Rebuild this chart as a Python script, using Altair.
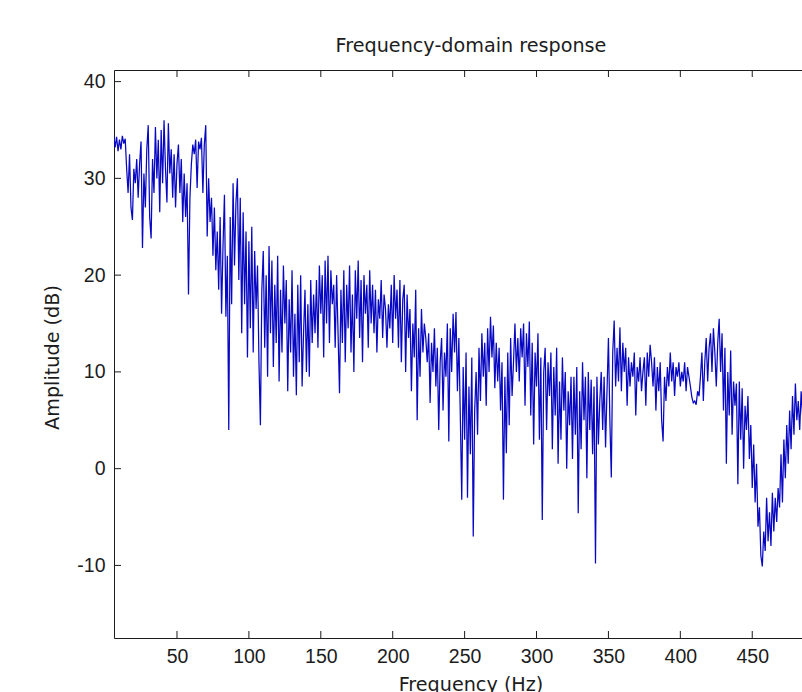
import altair as alt
import pandas as pd

# ---- data (1 Hz bins starting at 6 Hz) ----
freq_start_hz = 6
amp_db = [
    34.5, 33.2, 34.3, 32.8, 34.0, 33.0, 34.4, 33.6, 34.1, 31.0, 28.5, 32.5, 27.0, 25.7, 31.0, 29.5, 32.0, 28.0, 31.5, 33.8,
    22.8, 30.5, 27.0, 33.0, 35.5, 26.0, 23.8, 32.0, 28.5, 35.3, 30.0, 34.0, 26.5, 35.0, 29.5, 36.0, 31.0, 27.5, 35.7, 30.5,
    33.0, 28.0, 32.5, 27.0, 31.5, 33.5, 28.5, 32.0, 25.5, 30.5, 26.0, 29.5, 18.0, 28.0, 31.5, 33.5, 32.5, 34.0, 29.0, 33.8,
    33.0, 34.2, 28.5, 33.5, 35.5, 24.0, 30.0, 25.5, 28.0, 22.0, 27.0, 20.5, 24.5, 18.5, 26.0, 16.0, 23.0, 28.3, 15.7, 22.0,
    4.0, 26.0, 17.0, 29.5, 21.0, 27.5, 30.0, 19.5, 28.0, 14.0, 26.5, 17.0, 24.5, 11.5, 23.5, 14.5, 25.0, 12.0, 22.5, 16.5,
    21.0, 11.0, 4.5, 18.5, 22.5, 12.5, 20.0, 9.5, 23.0, 14.0, 21.5, 10.5, 19.0, 13.0, 22.0, 9.0, 18.5, 12.0, 21.0, 15.0,
    19.5, 8.0, 17.5, 12.0, 20.5, 9.5, 16.0, 7.6, 19.0, 11.0, 20.0, 8.5, 14.0, 18.5, 10.0, 17.0, 9.5, 19.5, 13.0, 18.0,
    14.0, 19.5, 12.5, 21.0, 16.0, 20.0, 11.5, 21.5, 15.0, 22.0, 13.0, 20.5, 17.0, 19.0, 12.5, 20.0, 14.0, 7.8, 18.5, 13.0,
    20.5, 11.0, 19.0, 14.5, 21.0, 12.0, 18.0, 10.0, 20.5, 15.5, 21.5, 13.5, 19.5, 11.0, 20.0, 16.0, 19.0, 12.5, 20.5, 15.0,
    19.0, 14.0, 18.5, 12.0, 17.5, 15.5, 19.5, 13.5, 18.0, 16.5, 12.5, 17.0, 14.5, 19.0, 13.0, 20.0, 15.5, 18.5, 12.5, 19.5,
    11.0, 17.5, 19.0, 10.0, 18.0, 13.5, 16.5, 8.0, 15.0, 11.5, 18.5, 5.0, 14.5, 9.5, 16.5, 12.0, 15.0, 13.5, 11.0, 14.0,
    6.8, 13.0, 10.0, 14.5, 8.5, 12.5, 4.0, 11.0, 13.5, 6.0, 12.0, 9.5, 15.0, 2.8, 14.5, 10.0, 16.0, 12.0, 16.2, 8.0,
    13.5, 5.5, -3.2, 10.5, 3.0, 12.0, -3.0, 8.5, 1.5, 11.5, -7.0, 6.0, 10.0, 3.5, 12.5, 7.0, 14.0, 9.5, 13.0, 6.5,
    14.5, 10.0, 15.7, 11.5, 14.8, 8.3, 13.0, 9.0, 12.5, 6.0, 11.0, -3.2, 9.5, 1.6, 12.0, 4.5, 13.5, 7.5, 11.0, 15.0,
    10.0, 13.5, 9.0, 14.5, 11.5, 15.0, 6.5, 14.0, 10.5, 15.2, 5.5, 13.0, 2.5, 12.0, 8.5, 14.0, 3.0, 11.5, -5.3, 10.0,
    12.5, 4.0, 11.0, 7.5, 12.0, 2.0, 10.5, 5.5, 12.5, 0.5, 9.0, 3.0, 11.5, 6.0, 10.0, 0.0, 8.0, 4.5, 9.5, 1.0,
    9.5, 3.5, 10.5, -4.6, 8.0, 2.0, 11.0, 5.0, 9.5, -1.0, 10.0, 4.0, 9.2, 1.5, 8.5, -9.8, 9.5, 2.5, 7.0, 10.0,
    4.0, 9.5, 2.2, 8.0, 13.5, 5.0, -0.9, 12.0, 15.3, 8.5, 12.5, 9.0, 14.6, 8.0, 13.0, 10.0, 12.5, 6.5, 11.5, 8.5,
    11.0, 9.5, 12.0, 5.5, 10.5, 9.0, 11.5, 8.0, 10.0, 11.5, 6.5, 12.0, 9.5, 12.8, 11.0, 8.5, 11.5, 6.0, 10.5, 8.0,
    11.0, 5.0, 2.8, 9.5, 7.0, 10.5, 8.5, 12.0, 9.0, 11.0, 7.5, 10.5, 9.5, 11.0, 8.5, 10.0, 9.0, 11.0, 8.0, 10.5,
    9.5, 8.5, 7.4, 6.8, 7.0, 6.6, 8.0, 7.5, 9.5, 12.0, 7.0, 11.0, 13.5, 9.0, 12.5, 14.0, 10.0, 14.5, 12.0, 8.5,
    13.0, 15.5, 10.0, 14.0, 6.0, 12.5, 0.5, 10.0, 5.5, 12.2, 3.5, 9.0, 6.5, 8.8, -1.6, 9.0, 3.0, 8.3, 0.0, 6.5,
    4.0, 7.5, 1.0, 4.5, -2.0, 2.5, -3.5, 0.5, -6.0, -4.0, -9.0, -10.1, -6.5, -8.5, -3.0, -7.5, -4.5, -8.0, -2.5, -6.5,
    -3.0, -5.5, -2.0, -4.0, 1.5, -3.5, 3.0, -1.0, 4.5, 0.5, 6.0, 2.0, 7.5, 3.5, 8.8, 5.0, 7.0, 4.0, 8.0, 5.5,
]
freq_hz = list(range(freq_start_hz, freq_start_hz + len(amp_db)))

x_ticks = [50, 100, 150, 200, 250, 300, 350, 400, 450]
y_ticks = [-10, 0, 10, 20, 30, 40]
x_domain = [6.2, 484.6]
y_domain = [-17.5, 41.2]

title_text = "Frequency-domain response"
x_title = "Frequency (Hz)"
y_title = "Amplitude (dB)"

df = pd.DataFrame({"Frequency": freq_hz, "Amplitude": amp_db})
xt_df = pd.DataFrame({"v": x_ticks})
yt_df = pd.DataFrame({"v": y_ticks})

W, H = 688, 568
LABEL_FONT = "Liberation Sans"
TITLE_FONT = "DejaVu Sans"
INK = "#1c1c1c"
FS = 19.5
TFS = 19.2
TICK_PX = 7

# inward tick length expressed in data units of each axis
tick_len_y = TICK_PX * (y_domain[1] - y_domain[0]) / H
tick_len_x = TICK_PX * (x_domain[1] - x_domain[0]) / W

xs = alt.Scale(domain=x_domain, nice=False, zero=False)
ys = alt.Scale(domain=y_domain, nice=False, zero=False)

line = alt.Chart(df).mark_line(color="#0808c4", strokeWidth=1.25, clip=True).encode(
    x=alt.X("Frequency:Q", scale=xs,
            axis=alt.Axis(orient="bottom", values=x_ticks, ticks=False, grid=False,
                          domain=True, domainColor=INK, domainWidth=1,
                          labelFont=LABEL_FONT, labelFontSize=FS, labelColor=INK, labelPadding=9,
                          labelFlush=False, labelOverlap=False, labelExpr="'' + datum.value",
                          title=x_title, titleFont=TITLE_FONT, titleFontSize=TFS,
                          titleFontWeight="normal", titleColor=INK, titleX=356.5, titleY=52,
                          titleBaseline="alphabetic", titleAlign="center", titleAnchor="start")),
    y=alt.Y("Amplitude:Q", scale=ys,
            axis=alt.Axis(orient="left", values=y_ticks, ticks=False, grid=False,
                          domain=True, domainColor=INK, domainWidth=1,
                          labelFont=LABEL_FONT, labelFontSize=FS, labelColor=INK, labelPadding=9,
                          labelFlush=False, labelOverlap=False, labelExpr="'' + datum.value",
                          title=y_title, titleFont=TITLE_FONT, titleFontSize=TFS,
                          titleFontWeight="normal", titleColor=INK, titleX=-55.5, titleY=287,
                          titleAngle=270, titleBaseline="alphabetic", titleAlign="center",
                          titleAnchor="start")),
)

# top border of the box
top_border = alt.Chart(df).mark_line(opacity=0).encode(
    x=alt.X("Frequency:Q", scale=xs,
            axis=alt.Axis(orient="bottom", offset=-H, values=x_ticks, labels=False, domain=True,
                          domainColor=INK, domainWidth=1, ticks=False, grid=False, title=None)),
    y=alt.Y("Amplitude:Q", scale=ys, axis=None),
)

# inward ticks (MATLAB style) on bottom, top and left edges
bottom_ticks = alt.Chart(xt_df).mark_rule(color=INK, strokeWidth=1).encode(
    x=alt.X("v:Q", scale=xs, axis=None),
    y=alt.YDatum(y_domain[0], scale=ys, axis=None),
    y2=alt.Y2Datum(y_domain[0] + tick_len_y),
)
top_ticks = alt.Chart(xt_df).mark_rule(color=INK, strokeWidth=1).encode(
    x=alt.X("v:Q", scale=xs, axis=None),
    y=alt.YDatum(y_domain[1], scale=ys, axis=None),
    y2=alt.Y2Datum(y_domain[1] - tick_len_y),
)
left_ticks = alt.Chart(yt_df).mark_rule(color=INK, strokeWidth=1).encode(
    y=alt.Y("v:Q", scale=ys, axis=None),
    x=alt.XDatum(x_domain[0], scale=xs, axis=None),
    x2=alt.X2Datum(x_domain[0] + tick_len_x),
)

chart = (
    alt.layer(line, top_border, bottom_ticks, top_ticks, left_ticks)
    .resolve_axis(x="independent", y="independent")
    .properties(
        width=W,
        height=H,
        title=alt.TitleParams(title_text, anchor="middle", frame="group", dx=13, offset=-1.8,
                              font=TITLE_FONT, fontSize=TFS, fontWeight="normal", color=INK,
                              baseline="alphabetic"),
        autosize=alt.AutoSizeParams(type="none"),
        padding={"left": 114, "top": 70, "right": 0, "bottom": 54},
    )
    .configure_view(stroke=None)
    .configure(background="white")
)

chart.save("out.html", embed_options={"renderer": "svg", "actions": False})
